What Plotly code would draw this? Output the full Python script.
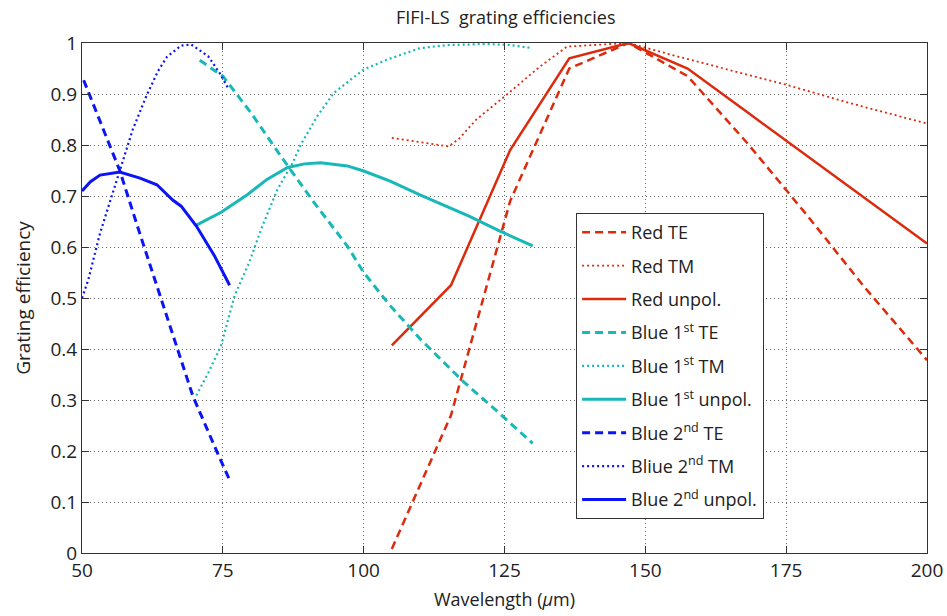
import plotly.graph_objects as go

# Red channel
red_x = [105, 115.5, 126, 136.5, 147, 157.5, 168, 178.5, 189, 200]
red_te = [0.008, 0.27, 0.69, 0.95, 1.0, 0.935, 0.805, 0.665, 0.52, 0.378]
red_unpol = [0.407, 0.525, 0.79, 0.97, 1.0, 0.95, 0.865, 0.78, 0.695, 0.607]
red_tm_x = [105, 110, 115.1, 117, 120, 125, 131.2, 136.1, 141, 147, 155.9, 165, 174.4, 186.7, 200]
red_tm = [0.814, 0.805, 0.797, 0.813, 0.85, 0.895, 0.953, 0.993, 0.996, 1.0, 0.973, 0.947, 0.92, 0.881, 0.842]

# Blue 1st order
b1_te_x = [70.9, 75, 80, 85.3, 91.2, 97.1, 100, 104.7, 110, 117.6, 124, 130]
b1_te = [0.966, 0.935, 0.863, 0.778, 0.687, 0.602, 0.55, 0.485, 0.42, 0.337, 0.275, 0.215]
b1_tm_x = [70.3, 72.5, 74.7, 77.1, 79.7, 81.8, 84.7, 87.4, 88.8, 91.8, 94.7, 100, 104.1, 110, 115, 121.9, 126, 129.9]
b1_tm = [0.309, 0.355, 0.407, 0.505, 0.57, 0.635, 0.713, 0.765, 0.8, 0.857, 0.902, 0.948, 0.967, 0.99, 0.996, 0.998, 0.996, 0.99]
b1_un_x = [70.3, 74.7, 79.4, 82.9, 86.5, 89.5, 92.4, 97.1, 100, 104.7, 110, 118.8, 124, 130]
b1_un = [0.643, 0.668, 0.703, 0.733, 0.756, 0.763, 0.765, 0.759, 0.749, 0.729, 0.702, 0.66, 0.632, 0.602]

# Blue 2nd order
b2_te_x = [50.3, 53.2, 56.7, 60.3, 64.1, 69.7, 74.1, 76.2]
b2_te = [0.927, 0.845, 0.75, 0.625, 0.498, 0.307, 0.195, 0.143]
b2_tm_x = [50, 51.1, 53.2, 56.7, 59, 61.5, 63.5, 65.1, 67.6, 69.4, 72.4, 74.5, 75.9]
b2_tm = [0.5, 0.535, 0.627, 0.75, 0.83, 0.898, 0.945, 0.973, 0.995, 0.997, 0.974, 0.94, 0.912]
b2_un_x = [50, 51.5, 53.2, 56.7, 60.3, 63.3, 66.1, 67.6, 70.3, 73.5, 76.2]
b2_un = [0.71, 0.728, 0.741, 0.747, 0.735, 0.722, 0.692, 0.68, 0.641, 0.583, 0.525]

x_ticks = [50, 75, 100, 125, 150, 175, 200]
y_ticks = [0, 0.1, 0.2, 0.3, 0.4, 0.5, 0.6, 0.7, 0.8, 0.9, 1]
y_ticktext = ["0", "0.1", "0.2", "0.3", "0.4", "0.5", "0.6", "0.7", "0.8", "0.9", "1"]

RED = "#dc2a0c"
CYAN = "#18b8b8"
BLUE = "#0a14f5"

series = [
    ("Red TE", red_x, red_te, RED, "8px,5px", 2.5),
    ("Red TM", red_tm_x, red_tm, RED, "2px,3px", 1.8),
    ("Red unpol.", red_x, red_unpol, RED, "solid", 2.5),
    ("Blue 1<sup>st</sup> TE", b1_te_x, b1_te, CYAN, "8px,5px", 3),
    ("Blue 1<sup>st</sup> TM", b1_tm_x, b1_tm, CYAN, "2px,3px", 2.2),
    ("Blue 1<sup>st</sup> unpol.", b1_un_x, b1_un, CYAN, "solid", 3),
    ("Blue 2<sup>nd</sup> TE", b2_te_x, b2_te, BLUE, "8px,5px", 3),
    ("Bliue 2<sup>nd</sup> TM", b2_tm_x, b2_tm, BLUE, "2px,3px", 2.2),
    ("Blue 2<sup>nd</sup> unpol.", b2_un_x, b2_un, BLUE, "solid", 3),
]

fig = go.Figure()
for i, (name, xs, ys, col, dash, w) in enumerate(series):
    fig.add_trace(go.Scatter(x=xs, y=ys, mode="lines", name=name, legendgroup=f"g{i}",
                             line=dict(color=col, dash=dash, width=w)))

FONT = "Open Sans, Liberation Sans, sans-serif"
fig.update_layout(
    width=947, height=616,
    margin=dict(l=82, r=20, t=43, b=63),
    paper_bgcolor="white", plot_bgcolor="white",
    font=dict(family=FONT, size=19, color="#222"),
    title=dict(text="FIFI-LS  grating efficiencies", x=0.534, xanchor="center", y=0.971, yanchor="middle",
               font=dict(size=18, color="#222")),
    showlegend=True,
    legend=dict(x=0.5845, y=0.667, xanchor="left", yanchor="top", bgcolor="white",
                bordercolor="#333", borderwidth=1.2, tracegroupgap=7,
                font=dict(size=18, color="#222"), itemwidth=44),
)
fig.update_xaxes(range=[50, 200], tickvals=x_ticks, automargin=False,
                 showline=True, mirror="ticks", linecolor="#333", linewidth=1.2,
                 ticks="inside", ticklen=7, tickcolor="#333",
                 showgrid=True, gridcolor="#666", griddash="1px,3px", gridwidth=1,
                 zeroline=False, tickfont=dict(size=19),
                 title=dict(text="Wavelength (<i>μ</i>m)", standoff=11, font=dict(size=18)))
fig.update_yaxes(range=[0, 1], tickvals=y_ticks, ticktext=y_ticktext, automargin=False,
                 showline=True, mirror="ticks", linecolor="#333", linewidth=1.2,
                 ticks="inside", ticklen=7, tickcolor="#333",
                 showgrid=True, gridcolor="#666", griddash="1px,3px", gridwidth=1,
                 zeroline=False, tickfont=dict(size=19),
                 title=dict(text="Grating efficiency", standoff=14, font=dict(size=19)))

fig.write_html("out.html", config={"displayModeBar": False},
               post_script="document.body.style.margin='0px';document.body.style.overflow='hidden';")
